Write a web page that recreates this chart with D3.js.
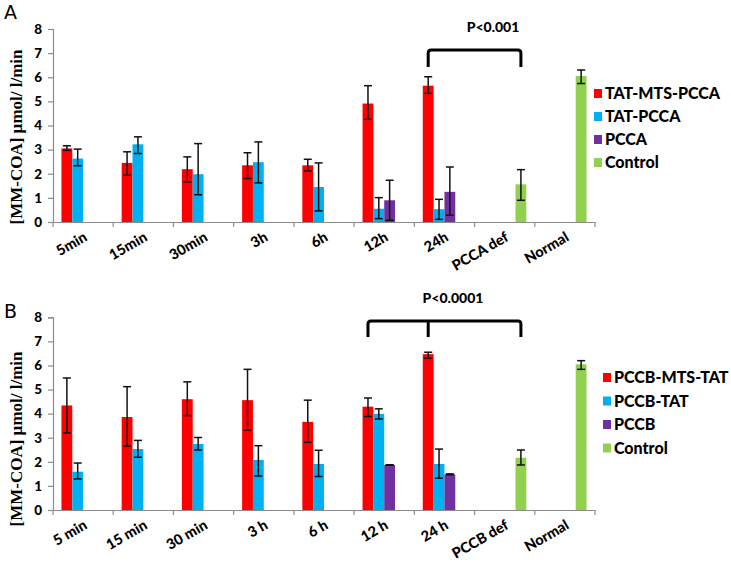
<!DOCTYPE html>
<html><head><meta charset="utf-8">
<script src="https://cdn.jsdelivr.net/npm/d3@7"></script>
<style>
body{margin:0;background:#fff;}
svg{display:block;}
text{font-family:Lato,"Open Sans",sans-serif;font-weight:900;fill:#000;}
</style></head>
<body>
<svg id="c" width="731" height="568"></svg>
<script>
// ---------- DATA ----------
const categoriesA = ["5min","15min","30min","3h","6h","12h","24h","PCCA def","Normal"];
const seriesA = ["TAT-MTS-PCCA","TAT-PCCA","PCCA","Control"];
const tatMtsPcca    = [3.05,2.45,2.19,2.35,2.35,4.91,5.65,null,null];
const tatMtsPccaHi  = [3.16,2.91,2.70,2.87,2.60,5.65,6.02,null,null];
const tatMtsPccaLo  = [2.97,1.94,1.66,1.80,2.12,4.26,5.33,null,null];
const tatPcca       = [2.63,3.22,1.98,2.48,1.45,0.55,0.53,null,null];
const tatPccaHi     = [3.02,3.53,3.25,3.32,2.45,1.01,0.94,null,null];
const tatPccaLo     = [2.33,2.84,1.13,1.62,0.46,0.14,0.11,null,null];
const pcca          = [null,null,null,null,null,0.90,1.25,null,null];
const pccaHi        = [null,null,null,null,null,1.73,2.28,null,null];
const pccaLo        = [null,null,null,null,null,0.07,0.28,null,null];
const controlA      = [null,null,null,null,null,null,null,1.56,6.05];
const controlAHi    = [null,null,null,null,null,null,null,2.17,6.30];
const controlALo    = [null,null,null,null,null,null,null,0.90,5.74];

const categoriesB = ["5 min","15 min","30 min","3 h","6 h","12 h","24 h","PCCB def","Normal"];
const seriesB = ["PCCB-MTS-TAT","PCCB-TAT","PCCB","Control"];
const pccbMtsTat    = [4.34,3.86,4.60,4.56,3.66,4.29,6.47,null,null];
const pccbMtsTatHi  = [5.48,5.12,5.32,5.84,4.56,4.65,6.55,null,null];
const pccbMtsTatLo  = [3.20,2.65,3.92,3.32,2.81,3.88,6.30,null,null];
const pccbTat       = [1.59,2.53,2.74,2.08,1.91,3.99,1.91,null,null];
const pccbTatHi     = [1.95,2.89,3.01,2.67,2.48,4.20,2.53,null,null];
const pccbTatLo     = [1.29,2.19,2.49,1.41,1.39,3.78,1.32,null,null];
const pccb          = [null,null,null,null,null,1.87,1.48,null,null];
const pccbHi        = [null,null,null,null,null,1.88,1.50,null,null];
const pccbLo        = [null,null,null,null,null,1.86,1.46,null,null];
const controlB      = [null,null,null,null,null,null,null,2.17,6.05];
const controlBHi    = [null,null,null,null,null,null,null,2.49,6.20];
const controlBLo    = [null,null,null,null,null,null,null,1.87,5.84];

const yTicks = [0,1,2,3,4,5,6,7,8];
const yLabel = "[MM-COA] µmol/ l/min";
const colors = ["#FF0000","#00B0F0","#7030A0","#92D050"];

// significance brackets: [category, series] for each leg
const bracketA = [["24h","TAT-MTS-PCCA"],["PCCA def","Control"]];
const bracketB = [["12 h","PCCB-MTS-TAT"],["24 h","PCCB-MTS-TAT"],["PCCB def","Control"]];

// ---------- DRAW ----------
const svg = d3.select("#c");

function panel(cfg){
  const g = svg.append("g");
  const x = d3.scaleBand().domain(cfg.categories).range([53,595]).padding(0);
  const x1 = d3.scaleBand().domain(cfg.series).range([0,x.bandwidth()]).paddingInner(0).paddingOuter(0.78);
  const y = d3.scaleLinear().domain([0,8]).range([cfg.bottom,cfg.top]);

  // y axis
  const ya = g.append("g").attr("transform","translate(53,0)")
    .call(d3.axisLeft(y).tickValues(yTicks).tickSize(5).tickPadding(6).tickFormat(d3.format("d")));
  ya.selectAll("path,line").attr("stroke","#8c8c8c").attr("stroke-width",1.2);
  ya.selectAll("text").style("font-size","13.5px").style("font-family","Lato,sans-serif").style("font-weight","900").attr("fill","#000");

  // x axis
  const xa = g.append("g").attr("transform",`translate(0,${cfg.bottom})`)
    .call(d3.axisBottom(x).tickSize(0).tickFormat(""));
  xa.select("path").attr("stroke","#8c8c8c").attr("stroke-width",1.2);
  const bounds = cfg.categories.map(c=>x(c)).concat([x.range()[1]]);
  g.selectAll(".xt").data(bounds).enter().append("line")
    .attr("x1",d=>d).attr("x2",d=>d).attr("y1",cfg.bottom).attr("y2",cfg.bottom+5)
    .attr("stroke","#8c8c8c").attr("stroke-width",1.2);
  g.selectAll(".xl").data(cfg.categories).enter().append("text")
    .attr("transform",c=>`translate(${x(c)+x.bandwidth()/2+5},${cfg.bottom+18}) rotate(-30)`)
    .attr("text-anchor","end").style("font-size","14.5px").text(c=>c);

  // bars
  cfg.values.forEach((vals,si)=>{
    const s = cfg.series[si];
    const data = vals.map((v,i)=>({c:cfg.categories[i],v,hi:cfg.hi[si][i],lo:cfg.lo[si][i]})).filter(d=>d.v!=null);
    g.selectAll(null).data(data).enter().append("rect")
      .attr("x",d=>x(d.c)+x1(s)).attr("width",x1.bandwidth())
      .attr("y",d=>y(d.v)).attr("height",d=>y(0)-y(d.v))
      .attr("fill",colors[si]);
    const eb = g.selectAll(null).data(data).enter().append("g")
      .attr("stroke","#111").attr("stroke-width",1.5);
    const cx = d=>x(d.c)+x1(s)+x1.bandwidth()/2;
    eb.append("line").attr("x1",cx).attr("x2",cx).attr("y1",d=>y(d.hi)).attr("y2",d=>y(d.lo));
    eb.append("line").attr("x1",d=>cx(d)-4).attr("x2",d=>cx(d)+4).attr("y1",d=>y(d.hi)).attr("y2",d=>y(d.hi));
    eb.append("line").attr("x1",d=>cx(d)-4).attr("x2",d=>cx(d)+4).attr("y1",d=>y(d.lo)).attr("y2",d=>y(d.lo));
  });

  // y label
  g.append("text").attr("transform",`translate(22,${cfg.labelY}) rotate(-90)`)
    .attr("text-anchor","middle")
    .style("font-family","'Liberation Serif','Times New Roman',serif").style("font-weight","bold").style("font-size","17px")
    .text(yLabel);

  // panel letter
  g.append("text").attr("x",4).attr("y",cfg.letterY)
    .style("font-weight","normal").style("font-family","'DejaVu Sans',sans-serif").style("font-size","19px")
    .text(cfg.letter);

  // legend
  const lg = g.append("g");
  cfg.series.forEach((s,i)=>{
    const yy = cfg.legY + i*cfg.legStep;
    lg.append("rect").attr("x",cfg.legX).attr("y",yy-10).attr("width",8).attr("height",9).attr("fill",colors[i]);
    lg.append("text").attr("x",cfg.legX+11).attr("y",yy).style("font-size","16px").text(s);
  });

  // significance bracket
  const br = cfg.bracket;
  const path = d3.path();
  const r = 3;
  const xs = br.legs.map(([c,s])=>x(c)+x1(s)+x1.bandwidth()/2);
  const yb = br.y, leg = br.leg, n = xs.length-1;
  path.moveTo(xs[0], yb+leg);
  path.lineTo(xs[0], yb+r);
  path.quadraticCurveTo(xs[0], yb, xs[0]+r, yb);
  path.lineTo(xs[n]-r, yb);
  path.quadraticCurveTo(xs[n], yb, xs[n], yb+r);
  path.lineTo(xs[n], yb+leg);
  for(let k=1;k<n;k++){ path.moveTo(xs[k], yb); path.lineTo(xs[k], yb+leg); }
  g.append("path").attr("d",path.toString()).attr("fill","none").attr("stroke","#000").attr("stroke-width",3);
  g.append("text").attr("x",br.textX).attr("y",br.textY).attr("text-anchor","middle")
    .style("font-size","14px").text(br.label);
}

panel({
  categories:categoriesA, series:seriesA,
  values:[tatMtsPcca,tatPcca,pcca,controlA],
  hi:[tatMtsPccaHi,tatPccaHi,pccaHi,controlAHi],
  lo:[tatMtsPccaLo,tatPccaLo,pccaLo,controlALo],
  top:29, bottom:222, labelY:137, letterY:19, letter:"A",
  legX:594, legY:99, legStep:23,
  bracket:{legs:bracketA, y:50, leg:17, label:"P<0.001", textX:493, textY:32}
});
panel({
  categories:categoriesB, series:seriesB,
  values:[pccbMtsTat,pccbTat,pccb,controlB],
  hi:[pccbMtsTatHi,pccbTatHi,pccbHi,controlBHi],
  lo:[pccbMtsTatLo,pccbTatLo,pccbLo,controlBLo],
  top:317.3, bottom:510, labelY:439, letterY:318, letter:"B",
  legX:603, legY:383, legStep:23.5,
  bracket:{legs:bracketB, y:321, leg:16, label:"P<0.0001", textX:453, textY:303}
});
</script>
</body></html>
